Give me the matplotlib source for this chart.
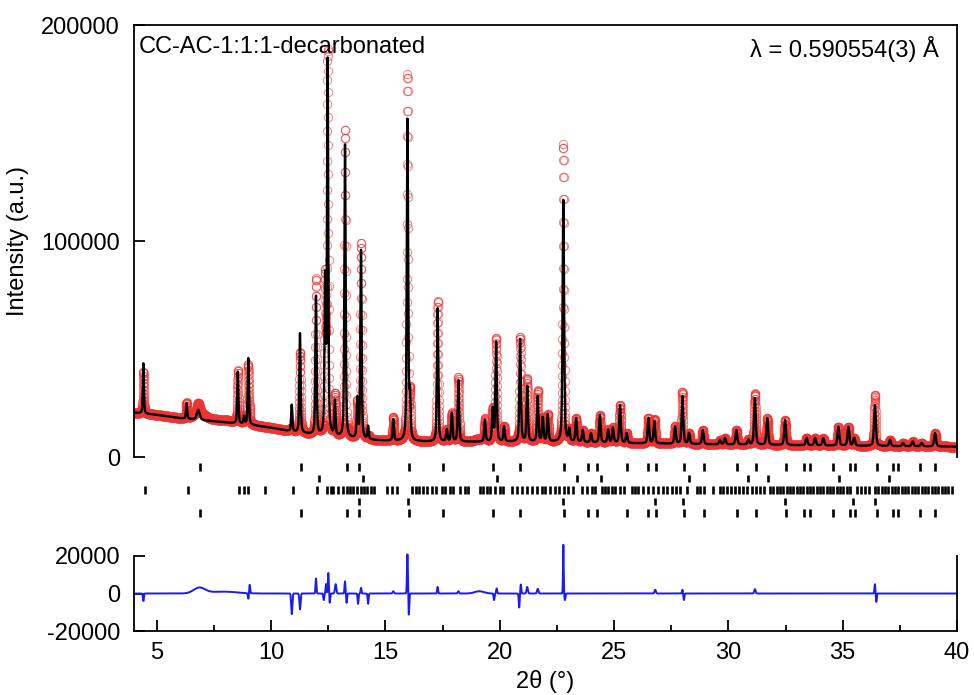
import numpy as np
import matplotlib
matplotlib.use("Agg")
import matplotlib.pyplot as plt
from matplotlib.ticker import MultipleLocator

plt.rcParams['font.family'] = ['Liberation Sans', 'DejaVu Sans']

# ---------------- data ----------------
# background anchor points (2theta, intensity)
bg_tth = [4, 5, 6, 7, 8, 9, 10, 11, 12, 13, 14, 15, 17, 20, 22, 25, 28, 30, 35, 40]
bg_int = [20500, 19500, 18000, 17000, 16000, 15000, 13500, 11500, 10000, 9000,
          8000, 7500, 7000, 7000, 7000, 6500, 6000, 5800, 5200, 4800]

# calculated profile peaks: position (deg), height above background
peak_pos = [4.41, 6.30, 6.81, 8.54, 8.81, 9.00, 10.90, 11.26, 11.96, 12.36,
            12.47, 12.79, 13.23, 13.77, 13.93, 14.24, 15.34, 15.96, 16.07, 17.28,
            17.68, 17.90, 18.19, 19.35, 19.69, 19.84, 20.19, 20.89, 21.20, 21.66,
            21.88, 22.10, 22.78, 23.04, 23.34, 23.63, 23.99, 24.38, 24.74, 24.95,
            25.26, 25.55, 26.50, 26.76, 27.67, 27.99, 28.28, 28.88, 29.63, 29.85,
            30.35, 30.87, 31.16, 31.70, 32.48, 33.42, 33.79, 34.15, 34.81, 35.25,
            35.50, 36.41, 37.07, 37.64, 38.06, 38.45, 39.04]
peak_hgt = [23400, 7300, 4600, 24000, 3500, 30700, 12300, 46000, 64000, 70000,
            173000, 16000, 136000, 18000, 87500, 6000, 9800, 148500, 20000, 61800,
            5500, 13200, 28600, 10100, 15000, 46000, 7000, 47500, 25500, 21000,
            11000, 12500, 112000, 5500, 11000, 5700, 4300, 12800, 6000, 7000,
            17500, 4500, 11800, 10300, 8000, 22200, 5000, 6600, 2000, 3000,
            6700, 2200, 21500, 12300, 11600, 3500, 3500, 3300, 8800, 8800,
            3600, 18900, 2900, 1500, 2200, 1500, 6200]
broad_peaks = [6.81]

# difference curve features: position, amplitude, width
diff_pos = [4.41, 6.86, 7.9, 9.00, 9.06, 10.90, 11.26, 11.96, 12.30, 12.40,
            12.50, 12.56, 12.82, 13.23, 13.30, 13.80, 13.93, 14.24, 15.34, 15.96,
            16.02, 17.28, 18.19, 19.10, 19.75, 19.86, 20.85, 20.92, 21.20, 21.66,
            22.78, 22.85, 26.80, 27.99, 28.05, 31.16, 36.41, 36.47]
diff_amp = [-4000, 3000, 1000, -3000, 4500, -11000, -8500, 8000, -3500, 5000,
            11000, -5000, 5000, 6500, -5000, -5500, 3000, -5500, 1200, 21000,
            -11500, 3500, 1200, 1200, -3500, 2700, -7500, 4800, 3500, 2500,
            26000, -3500, 2000, 2000, -3500, 2300, 5000, -4500]
diff_wid = [0.02, 0.25, 0.6, 0.02, 0.02, 0.025, 0.025, 0.02, 0.02, 0.02,
            0.02, 0.02, 0.03, 0.02, 0.02, 0.02, 0.02, 0.02, 0.03, 0.02,
            0.02, 0.02, 0.03, 0.2, 0.02, 0.02, 0.02, 0.02, 0.03, 0.03,
            0.015, 0.02, 0.03, 0.02, 0.02, 0.03, 0.02, 0.02]

# reflection tick rows (top to bottom)
ticks_row1 = [6.89, 11.30, 13.30, 13.86, 16.04, 17.50, 19.72, 20.89, 22.81, 23.87,
              24.24, 25.58, 26.50, 26.83, 28.06, 28.93, 30.36, 31.21, 32.52, 33.31,
              33.57, 34.56, 35.32, 35.54, 36.52, 37.19, 37.44, 38.36, 39.04]
ticks_row2 = [12.10, 14.00, 19.86, 23.36, 24.43, 28.28, 30.87, 31.72, 34.85, 37.04]
ticks_row3 = [4.48, 6.38, 8.61, 8.81, 9.00, 9.73, 10.97, 12.02, 12.43, 12.60,
              12.72, 12.94, 13.16, 13.30, 13.45, 13.59, 13.77, 13.92, 14.06, 14.21,
              14.35, 14.50, 15.05, 15.27, 15.52, 16.17, 16.32, 16.47, 16.66, 16.80,
              17.02, 17.21, 17.46, 17.60, 17.82, 17.97, 18.26, 18.48, 18.62, 19.14,
              19.28, 19.43, 19.57, 19.79, 20.01, 20.15, 20.52, 20.74, 20.96, 21.18,
              21.40, 21.62, 21.83, 21.98, 22.20, 22.42, 22.60, 22.81, 23.00, 23.22,
              23.58, 23.80, 24.02, 24.17, 24.46, 24.60, 24.75, 24.90, 25.04, 25.26,
              25.43, 25.77, 25.92, 26.06, 26.25, 26.50, 26.69, 26.94, 27.13, 27.33,
              27.52, 27.71, 27.88, 28.18, 28.61, 28.76, 28.93, 29.31, 29.63, 29.78,
              29.93, 30.10, 30.29, 30.48, 30.65, 30.83, 31.02, 31.21, 31.38, 31.56,
              31.82, 31.97, 32.11, 32.26, 32.40, 32.55, 32.70, 32.84, 32.99, 33.13,
              33.28, 33.43, 33.57, 33.72, 33.86, 34.01, 34.15, 34.30, 34.45, 34.59,
              34.74, 34.88, 35.03, 35.18, 35.32, 35.61, 35.79, 35.98, 36.17, 36.41,
              36.56, 36.71, 36.85, 37.00, 37.14, 37.29, 37.44, 37.58, 37.73, 37.87,
              38.02, 38.16, 38.31, 38.45, 38.60, 38.75, 38.89, 39.04, 39.18, 39.33,
              39.48, 39.62, 39.77]
ticks_row4 = [13.86, 16.00, 22.78, 26.79, 28.03, 32.48, 35.47, 36.41]
ticks_row5 = list(ticks_row1)

sample_label = "CC-AC-1:1:1-decarbonated"
wavelength_label = "λ = 0.590554(3) Å"

# ---------------- build profiles ----------------
tth = np.arange(4.0, 40.0001, 0.004)


def pv(x, x0, fwhm, eta=0.45):
    g = np.exp(-4 * np.log(2) * ((x - x0) / fwhm) ** 2)
    l = 1.0 / (1.0 + 4 * ((x - x0) / fwhm) ** 2)
    return eta * l + (1 - eta) * g


calc = np.interp(tth, bg_tth, bg_int).astype(float)
for p, h in zip(peak_pos, peak_hgt):
    w = 0.05 + 0.0012 * p
    if p in broad_peaks:
        w = 0.15
    calc += h * pv(tth, p, w)

diff = np.zeros_like(tth)
for p, a, s in zip(diff_pos, diff_amp, diff_wid):
    diff += a * np.exp(-0.5 * ((tth - p) / s) ** 2)

obs = calc + diff

# ---------------- figure ----------------
W, H = 974, 695
fig = plt.figure(figsize=(W / 100, H / 100), dpi=100)


def rect(x0, y0, x1, y1):
    return [x0 / W, 1 - y1 / H, (x1 - x0) / W, (y1 - y0) / H]


FS = 17
ax = fig.add_axes(rect(134, 25, 957, 457))
ax.plot(tth, obs, linestyle='none', marker='o', ms=6, mfc='none',
        mec=(0.93, 0.2, 0.2), mew=0.7, alpha=0.6, zorder=2)
ax.plot(tth, calc, color='black', lw=1.7, zorder=3)
ax.set_xlim(4, 40)
ax.set_ylim(0, 200000)
ax.spines['bottom'].set_visible(False)
for s in ['left', 'top', 'right']:
    ax.spines[s].set_linewidth(1.3)
ax.set_xticks([])
ax.set_yticks([0, 100000, 200000])
ax.set_yticklabels(['0', '100000', '200000'])
ax.tick_params(axis='y', direction='in', length=8, width=1.3, labelsize=FS, pad=10)
ax.set_ylabel('Intensity (a.u.)', fontsize=FS, labelpad=9)
ax.text(0.006, 0.975, sample_label, transform=ax.transAxes, fontsize=FS,
        ha='left', va='top')
ax.text(0.978, 0.975, wavelength_label, transform=ax.transAxes, fontsize=FS,
        ha='right', va='top')

# reflection ticks
axt = fig.add_axes(rect(134, 460, 957, 520))
axt.set_xlim(4, 40)
axt.set_ylim(5.6, 0.4)
axt.axis('off')
for i, row in enumerate([ticks_row1, ticks_row2, ticks_row3, ticks_row4, ticks_row5]):
    axt.vlines(row, i + 1 - 0.32, i + 1 + 0.32, color='black', lw=1.9)

# difference
axd = fig.add_axes(rect(134, 556, 957, 631))
axd.plot(tth, diff, color=(0.1, 0.1, 0.95), lw=1.4, clip_on=False)
axd.set_xlim(4, 40)
axd.set_ylim(-20000, 20000)
axd.spines['top'].set_visible(False)
for s in ['left', 'bottom', 'right']:
    axd.spines[s].set_linewidth(1.3)
axd.set_yticks([-20000, 0, 20000])
axd.set_yticklabels(['-20000', '0', '20000'])
axd.xaxis.set_major_locator(MultipleLocator(5))
axd.xaxis.set_minor_locator(MultipleLocator(2.5))
axd.tick_params(axis='both', which='major', direction='in', length=8, width=1.3,
                labelsize=FS)
axd.tick_params(axis='x', which='major', pad=8)
axd.tick_params(axis='y', which='major', pad=10)
axd.tick_params(axis='x', which='minor', direction='in', length=4, width=1.3)
axd.set_xlabel('2θ (°)', fontsize=FS, labelpad=4)

fig.savefig('out.png', dpi=100)
